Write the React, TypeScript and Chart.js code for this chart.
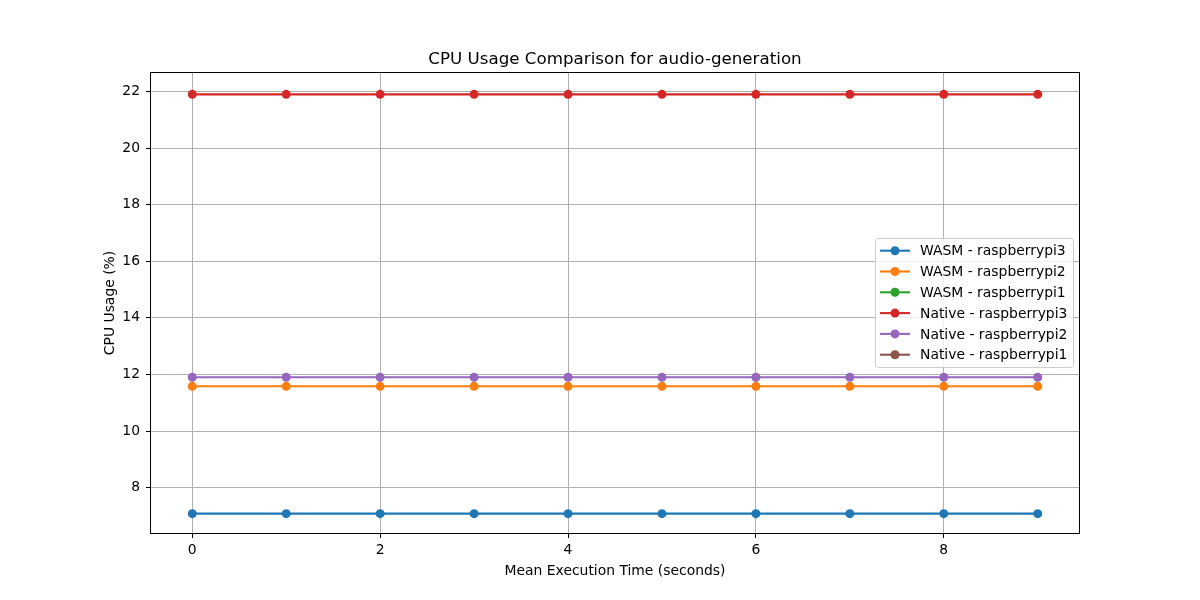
import React, { useEffect, useRef } from "react";
import { Chart, registerables } from "chart.js";

Chart.register(...registerables);

const xValues = [0, 1, 2, 3, 4, 5, 6, 7, 8, 9];
const wasmRpi3 = [7.08, 7.08, 7.08, 7.08, 7.08, 7.08, 7.08, 7.08, 7.08, 7.08];
const wasmRpi2 = [11.58, 11.58, 11.58, 11.58, 11.58, 11.58, 11.58, 11.58, 11.58, 11.58];
const wasmRpi1: number[] = [];
const nativeRpi3 = [21.9, 21.9, 21.9, 21.9, 21.9, 21.9, 21.9, 21.9, 21.9, 21.9];
const nativeRpi2 = [11.9, 11.9, 11.9, 11.9, 11.9, 11.9, 11.9, 11.9, 11.9, 11.9];
const nativeRpi1: number[] = [];

const seriesNames = [
  "WASM - raspberrypi3",
  "WASM - raspberrypi2",
  "WASM - raspberrypi1",
  "Native - raspberrypi3",
  "Native - raspberrypi2",
  "Native - raspberrypi1",
];
const seriesColors = ["#1f77b4", "#ff7f0e", "#2ca02c", "#d62728", "#9467bd", "#8c564b"];
const seriesData = [wasmRpi3, wasmRpi2, wasmRpi1, nativeRpi3, nativeRpi2, nativeRpi1];
const xTicks = [0, 2, 4, 6, 8];
const yTicks = [8, 10, 12, 14, 16, 18, 20, 22];

const titleText = "CPU Usage Comparison for audio-generation";
const xLabel = "Mean Execution Time (seconds)";
const yLabel = "CPU Usage (%)";
const FONT = '"DejaVu Sans", sans-serif';

const decorPlugin = {
  id: "decor",
  afterDatasetsDraw(chart: any) {
    const { ctx, chartArea } = chart;
    const { left, right, top, bottom } = chartArea;
    ctx.save();
    // frame
    ctx.strokeStyle = "#000";
    ctx.lineWidth = 1;
    ctx.strokeRect(left + 0.5, top + 0.5, right - left - 1, bottom - top - 1);
    // title
    ctx.fillStyle = "#000";
    ctx.textAlign = "center";
    ctx.textBaseline = "alphabetic";
    ctx.font = `16.7px ${FONT}`;
    ctx.fillText(titleText, (left + right) / 2, top - 8);
    // x label
    ctx.font = `13.9px ${FONT}`;
    ctx.fillText(xLabel, (left + right) / 2, 575);
    // y label
    ctx.save();
    ctx.translate(114, (top + bottom) / 2);
    ctx.rotate(-Math.PI / 2);
    ctx.fillText(yLabel, 0, 0);
    ctx.restore();
    // legend
    const lx = 875, ly = 238, lw = 198, lh = 129;
    ctx.fillStyle = "rgba(255,255,255,0.8)";
    ctx.strokeStyle = "#cccccc";
    ctx.lineWidth = 1;
    ctx.beginPath();
    ctx.roundRect(lx + 0.5, ly + 0.5, lw, lh, 3);
    ctx.fill();
    ctx.stroke();
    ctx.font = `13.9px ${FONT}`;
    ctx.textAlign = "left";
    ctx.textBaseline = "middle";
    seriesNames.forEach((name, i) => {
      const cy = 250.7 + i * 20.8;
      ctx.strokeStyle = seriesColors[i];
      ctx.lineWidth = 2.1;
      ctx.beginPath();
      ctx.moveTo(880, cy);
      ctx.lineTo(910, cy);
      ctx.stroke();
      ctx.fillStyle = seriesColors[i];
      ctx.beginPath();
      ctx.arc(895, cy, 4.5, 0, Math.PI * 2);
      ctx.fill();
      ctx.fillStyle = "#000";
      ctx.fillText(name, 920, cy + 1);
    });
    ctx.restore();
  },
};

export default function App() {
  const canvasRef = useRef<HTMLCanvasElement | null>(null);

  useEffect(() => {
    if (!canvasRef.current) return;
    const datasets = seriesNames.map((name, i) => ({
      label: name,
      data: seriesData[i].map((y, j) => ({ x: xValues[j], y })),
      borderColor: seriesColors[i],
      backgroundColor: seriesColors[i],
      borderWidth: 2.1,
      pointRadius: 4.5,
      pointHoverRadius: 4.5,
      pointBorderWidth: 0,
      fill: false,
      tension: 0,
      order: seriesNames.length - i,
    }));
    const chart = new Chart(canvasRef.current, {
      type: "line",
      data: { datasets },
      options: {
        animation: false,
        responsive: false,
        devicePixelRatio: 1,
        layout: { padding: { top: 72, right: 120, bottom: 0, left: 0 } },
        plugins: {
          legend: { display: false },
          title: { display: false },
          tooltip: { enabled: false },
        },
        scales: {
          x: {
            type: "linear",
            min: -0.45,
            max: 9.45,
            afterBuildTicks: (scale: any) => {
              scale.ticks = xTicks.map((v) => ({ value: v }));
            },
            afterFit: (scale: any) => {
              scale.height = 66;
            },
            grid: {
              color: "#b0b0b0",
              lineWidth: 1,
              tickColor: "#000",
              tickLength: 4,
            },
            border: { display: false },
            ticks: {
              color: "#000",
              font: { family: FONT, size: 13.9 },
              padding: 4,
              maxRotation: 0,
              callback: (v: any) => String(v),
            },
          },
          y: {
            type: "linear",
            min: 6.36,
            max: 22.69,
            afterBuildTicks: (scale: any) => {
              scale.ticks = yTicks.map((v) => ({ value: v }));
            },
            afterFit: (scale: any) => {
              scale.width = 150;
            },
            grid: {
              color: "#b0b0b0",
              lineWidth: 1,
              tickColor: "#000",
              tickLength: 4,
            },
            border: { display: false },
            ticks: {
              color: "#000",
              font: { family: FONT, size: 13.9 },
              padding: 6,
              callback: (v: any) => String(v),
            },
          },
        },
      },
      plugins: [decorPlugin],
    } as any);
    return () => chart.destroy();
  }, []);

  return (
    <div style={{ position: "absolute", left: 0, top: 0, width: 1200, height: 600, background: "#fff" }}>
      <canvas ref={canvasRef} width={1200} height={600} />
    </div>
  );
}
